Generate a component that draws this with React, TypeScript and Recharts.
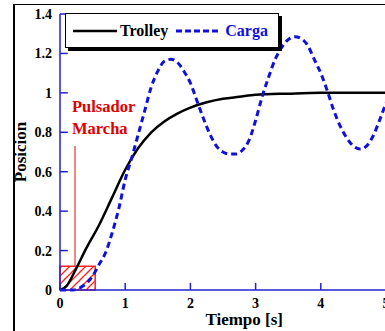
import {
  LineChart,
  Line,
  XAxis,
  YAxis,
  ReferenceLine,
  ReferenceArea,
  Label,
} from "recharts";

const trolleyTime = [0, 0.1, 0.25, 0.4, 0.6, 0.8, 1.0, 1.2, 1.4, 1.6, 1.8, 2.0, 2.25, 2.5, 2.75, 3.0, 3.5, 4.0, 4.5, 5.0];
const trolleyPos = [0, 0.02, 0.11, 0.21, 0.33, 0.47, 0.61, 0.72, 0.8, 0.855, 0.895, 0.925, 0.952, 0.97, 0.98, 0.99, 0.996, 1.0, 1.0, 1.0];

const cargaTime = [
  0, 0.2, 0.35, 0.5, 0.6, 0.7, 0.8, 0.9, 1.0, 1.1, 1.2, 1.3, 1.4, 1.5, 1.6, 1.7, 1.8, 1.9, 2.0, 2.1, 2.2, 2.3, 2.4,
  2.5, 2.6, 2.7, 2.8, 2.9, 3.0, 3.1, 3.2, 3.3, 3.4, 3.5, 3.6, 3.7, 3.8, 3.9, 4.0, 4.1, 4.2, 4.3, 4.4, 4.5, 4.6,
  4.7, 4.8, 4.9, 5.0,
];
const cargaPos = [
  0, 0, 0.02, 0.07, 0.13, 0.19, 0.29, 0.41, 0.56, 0.67, 0.79, 0.91, 1.03, 1.11, 1.16, 1.17, 1.155, 1.11, 1.05,
  0.96, 0.87, 0.79, 0.73, 0.7, 0.69, 0.69, 0.71, 0.76, 0.86, 0.98, 1.08, 1.17, 1.23, 1.27, 1.285, 1.275, 1.24,
  1.17, 1.1, 1.01, 0.91, 0.83, 0.77, 0.73, 0.715, 0.73, 0.78, 0.86, 0.95,
];

const xTicks = [0, 1, 2, 3, 4, 5];
const yTicks = [0, 0.2, 0.4, 0.6, 0.8, 1, 1.2, 1.4];

// start button pulse
const pulseEnd = 0.54;
const pulseHigh = 0.12;
const pulseMark = 0.23;
const pulseTop = 0.73;

const trolleyData = trolleyTime.map((t, i) => ({ t, pos: trolleyPos[i] }));
const cargaData = cargaTime.map((t, i) => ({ t, pos: cargaPos[i] }));

const AXIS = "#2222d0";
const BLUE = "#1010dd";
const RED = "#e00000";
const SERIF = "'Liberation Serif', 'Times New Roman', serif";

const tickStyle = { fontFamily: SERIF, fontWeight: 700, fontSize: 14, fill: "#000" };

function YLabel({ viewBox }: any) {
  const cx = viewBox.x + 6;
  const cy = viewBox.y + viewBox.height / 2;
  return (
    <text
      x={cx}
      y={cy}
      transform={`rotate(-90 ${cx} ${cy})`}
      textAnchor="middle"
      dominantBaseline="central"
      fontFamily={SERIF}
      fontWeight={700}
      fontSize={17}
      fill="#000"
    >
      Posicion
    </text>
  );
}

function XLabel({ viewBox }: any) {
  return (
    <text
      x={viewBox.x + viewBox.width * 0.565}
      y={viewBox.y + 35}
      textAnchor="middle"
      fontFamily={SERIF}
      fontWeight={700}
      fontSize={17}
      fill="#000"
    >
      Tiempo [s]
    </text>
  );
}

function PulseLabel({ viewBox }: any) {
  const x = viewBox.x - 3;
  const y = viewBox.y;
  return (
    <g fontFamily={SERIF} fontWeight={700} fontSize={16.5} fill={RED}>
      <text x={x} y={y - 34}>Pulsador</text>
      <text x={x} y={y - 12}>Marcha</text>
    </g>
  );
}

function LegendBox() {
  return (
    <div
      style={{
        position: "absolute",
        left: 65,
        top: 13,
        width: 212,
        height: 33,
        background: "#fff",
        border: "1px solid #000",
        boxShadow: "3px 3px 0 #000",
        display: "flex",
        alignItems: "center",
        fontFamily: SERIF,
        fontWeight: 700,
        fontSize: 16,
      }}
    >
      <svg width={46} height={10} style={{ marginLeft: 7 }}>
        <line x1={0} y1={5} x2={44} y2={5} stroke="#000" strokeWidth={2.5} />
      </svg>
      <span style={{ marginLeft: 1 }}>Trolley</span>
      <svg width={46} height={10} style={{ marginLeft: 8 }}>
        <line x1={0} y1={5} x2={44} y2={5} stroke={BLUE} strokeWidth={3} strokeDasharray="6 3" />
      </svg>
      <span style={{ marginLeft: 3, color: BLUE }}>Carga</span>
    </div>
  );
}

export default function App() {
  return (
    <div
      style={{
        position: "fixed",
        left: 0,
        top: 0,
        width: 385,
        height: 331,
        overflow: "hidden",
        background: "#fff",
      }}
    >
      <svg width={0} height={0} style={{ position: "absolute" }}>
        <defs>
          <pattern id="pulseHatch" patternUnits="userSpaceOnUse" width={8} height={8}>
            <line x1={0} y1={8} x2={8} y2={0} style={{ stroke: "#ff2020", strokeWidth: 1.3 }} />
            <line x1={-2} y1={2} x2={2} y2={-2} style={{ stroke: "#ff2020", strokeWidth: 1.3 }} />
            <line x1={6} y1={10} x2={10} y2={6} style={{ stroke: "#ff2020", strokeWidth: 1.3 }} />
          </pattern>
        </defs>
      </svg>
      <div
        style={{
          position: "absolute",
          left: 13,
          top: 4,
          width: 600,
          height: 600,
          borderLeft: "2px solid #000",
          borderTop: "1px solid #000",
        }}
      />
      <div style={{ position: "absolute", left: 0, top: 0 }}>
        <LineChart width={400} height={331} margin={{ top: 14, right: 14, bottom: 11, left: 14 }}>
          <XAxis
            type="number"
            dataKey="t"
            domain={[0, 5]}
            ticks={xTicks}
            allowDuplicatedCategory={false}
            height={30}
            tickLine={false}
            axisLine={{ stroke: AXIS, strokeWidth: 1.5 }}
            tick={tickStyle}
          >
            <Label content={XLabel} />
          </XAxis>
          <YAxis
            type="number"
            domain={[0, 1.4]}
            ticks={yTicks}
            width={46}
            tickLine={false}
            axisLine={{ stroke: AXIS, strokeWidth: 1.5 }}
            tick={tickStyle}
          >
            <Label content={YLabel} />
          </YAxis>
          {yTicks.map((v) => (
            <ReferenceLine key={`y${v}`} segment={[{ x: 0, y: v }, { x: 0.12, y: v }]} stroke={AXIS} strokeWidth={1.5} />
          ))}
          {xTicks.map((v) => (
            <ReferenceLine key={`x${v}`} segment={[{ x: v, y: 0 }, { x: v, y: 0.036 }]} stroke={AXIS} strokeWidth={1.5} />
          ))}
          <ReferenceArea
            x1={0}
            x2={pulseEnd}
            y1={0}
            y2={pulseHigh}
            fill="url(#pulseHatch)"
            fillOpacity={1}
            stroke="#ff2020"
            strokeWidth={1.5}
          />
          <ReferenceLine
            segment={[{ x: pulseMark, y: pulseHigh }, { x: pulseMark, y: pulseTop }]}
            stroke="#e86060"
            strokeWidth={1.5}
          >
            <Label content={PulseLabel} />
          </ReferenceLine>
          <Line
            data={trolleyData}
            dataKey="pos"
            type="monotone"
            stroke="#000"
            strokeWidth={2.5}
            dot={false}
            isAnimationActive={false}
          />
          <Line
            data={cargaData}
            dataKey="pos"
            type="monotone"
            stroke={BLUE}
            strokeWidth={3}
            strokeDasharray="6 4"
            dot={false}
            isAnimationActive={false}
          />
        </LineChart>
      </div>
      <LegendBox />
    </div>
  );
}
